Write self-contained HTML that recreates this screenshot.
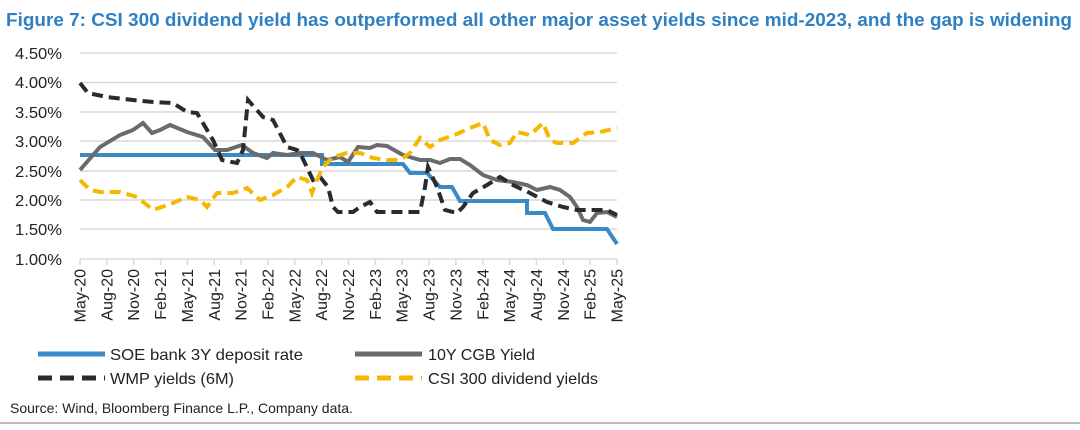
<!DOCTYPE html>
<html><head><meta charset="utf-8"><style>
body{margin:0;background:#fff;width:1080px;height:425px;overflow:hidden;font-family:"Liberation Sans",Arial,sans-serif}
</style></head><body>
<svg width="1080" height="425" xmlns="http://www.w3.org/2000/svg" font-family="Liberation Sans, Arial, sans-serif">
<text x="6" y="26" font-size="18.5" font-weight="bold" fill="#2f7fc1" textLength="1066" lengthAdjust="spacingAndGlyphs">Figure 7: CSI 300 dividend yield has outperformed all other major asset yields since mid-2023, and the gap is widening</text>
<g stroke="#d9d9d9" stroke-width="1.5">
<line x1="80" x2="617" y1="53" y2="53"/><line x1="80" x2="617" y1="82.5" y2="82.5"/><line x1="80" x2="617" y1="112" y2="112"/><line x1="80" x2="617" y1="141" y2="141"/><line x1="80" x2="617" y1="171" y2="171"/><line x1="80" x2="617" y1="200" y2="200"/><line x1="80" x2="617" y1="229" y2="229"/><line x1="80" x2="617" y1="259" y2="259"/>
</g>
<g font-size="16" fill="#222" text-anchor="end">
<text x="62" y="59" textLength="47" lengthAdjust="spacingAndGlyphs">4.50%</text><text x="62" y="88" textLength="47" lengthAdjust="spacingAndGlyphs">4.00%</text><text x="62" y="118" textLength="47" lengthAdjust="spacingAndGlyphs">3.50%</text><text x="62" y="147" textLength="47" lengthAdjust="spacingAndGlyphs">3.00%</text><text x="62" y="177" textLength="47" lengthAdjust="spacingAndGlyphs">2.50%</text><text x="62" y="206" textLength="47" lengthAdjust="spacingAndGlyphs">2.00%</text><text x="62" y="235" textLength="47" lengthAdjust="spacingAndGlyphs">1.50%</text><text x="62" y="265" textLength="47" lengthAdjust="spacingAndGlyphs">1.00%</text>
</g>
<g stroke="#d9d9d9" stroke-width="1.5" id="ticks"></g>
<g font-size="16" fill="#222" text-anchor="end" id="xl"></g>
<polyline fill="none" stroke="#3a8ac8" stroke-width="4" points="80,155 322,155 322,164 403,164 410,173 427,173 440,187 452,187 460,201 527,201 527,213 545,213 553,229 607,229 617,244"/>
<polyline fill="none" stroke="#6b6b6b" stroke-width="4" points="80,170 100,147 120,135 133,130 143,123 152,133 160,130 170,125 187,132 203,137 215,150 227,150 242,145 253,153 267,158 273,153 287,155 300,153 313,153 327,160 340,157 348,162 358,147 370,148 377,145 387,146 403,155 420,160 430,160 440,163 450,159 460,159 470,165 483,175 497,180 513,182 527,185 537,190 550,187 560,190 570,197 577,207 583,220 590,222 597,213 607,212 617,217"/>
<polyline fill="none" stroke="#2b2b2b" stroke-width="4" stroke-dasharray="11,6" points="80,83 88,93 107,97 133,100 153,102 173,103 187,112 197,113 213,140 222,160 237,163 243,150 248,100 263,117 273,120 287,147 297,150 302,157 313,180 320,177 328,187 333,207 338,212 353,212 360,207 370,202 377,212 393,212 420,212 425,187 428,167 437,187 445,210 457,213 463,207 473,193 487,185 500,177 513,185 530,193 547,202 563,207 577,210 593,210 607,210 617,215"/>
<polyline fill="none" stroke="#f5b800" stroke-width="4" stroke-dasharray="11,6" points="80,180 90,190 100,192 120,192 137,197 147,205 153,210 173,203 187,197 200,200 207,207 217,193 233,193 247,188 260,200 273,195 287,187 297,177 307,180 312,193 317,180 323,167 333,157 347,153 360,153 373,158 387,160 400,160 410,153 420,138 430,147 440,140 457,134 470,128 483,123 490,140 500,145 510,143 517,132 530,135 543,123 550,140 557,143 573,143 587,133 600,132 617,128"/>
<line x1="38" x2="105" y1="354" y2="354" stroke="#3a8ac8" stroke-width="5"/>
<text x="110" y="360" font-size="16" fill="#222" textLength="193" lengthAdjust="spacingAndGlyphs">SOE bank 3Y deposit rate</text>
<line x1="355" x2="422" y1="354" y2="354" stroke="#6b6b6b" stroke-width="5"/>
<text x="428" y="360" font-size="16" fill="#222" textLength="107" lengthAdjust="spacingAndGlyphs">10Y CGB Yield</text>
<line x1="38" x2="105" y1="378" y2="378" stroke="#2b2b2b" stroke-width="5" stroke-dasharray="14,8"/>
<text x="110" y="384" font-size="16" fill="#222" textLength="124" lengthAdjust="spacingAndGlyphs">WMP yields (6M)</text>
<line x1="355" x2="422" y1="378" y2="378" stroke="#f5b800" stroke-width="5" stroke-dasharray="14,8"/>
<text x="428" y="384" font-size="16" fill="#222" textLength="170" lengthAdjust="spacingAndGlyphs">CSI 300 dividend yields</text>
<text x="10" y="413" font-size="14" fill="#222">Source: Wind, Bloomberg Finance L.P., Company data.</text>
<line x1="0" x2="1080" y1="423" y2="423" stroke="#bbb" stroke-width="2"/>
</svg>
<script>
var labs=["May-20","Aug-20","Nov-20","Feb-21","May-21","Aug-21","Nov-21","Feb-22","May-22","Aug-22","Nov-22","Feb-23","May-23","Aug-23","Nov-23","Feb-24","May-24","Aug-24","Nov-24","Feb-25","May-25"];
var t=document.getElementById('ticks'),l=document.getElementById('xl'),ns="http://www.w3.org/2000/svg";
labs.forEach(function(s,i){var x=80+i*26.85;
var ln=document.createElementNS(ns,'line');ln.setAttribute('x1',x);ln.setAttribute('x2',x);ln.setAttribute('y1',259);ln.setAttribute('y2',265);t.appendChild(ln);
var tx=document.createElementNS(ns,'text');tx.setAttribute('transform','translate('+(x+5.5)+',269) rotate(-90)');tx.textContent=s;l.appendChild(tx);});
</script>
</body></html>
